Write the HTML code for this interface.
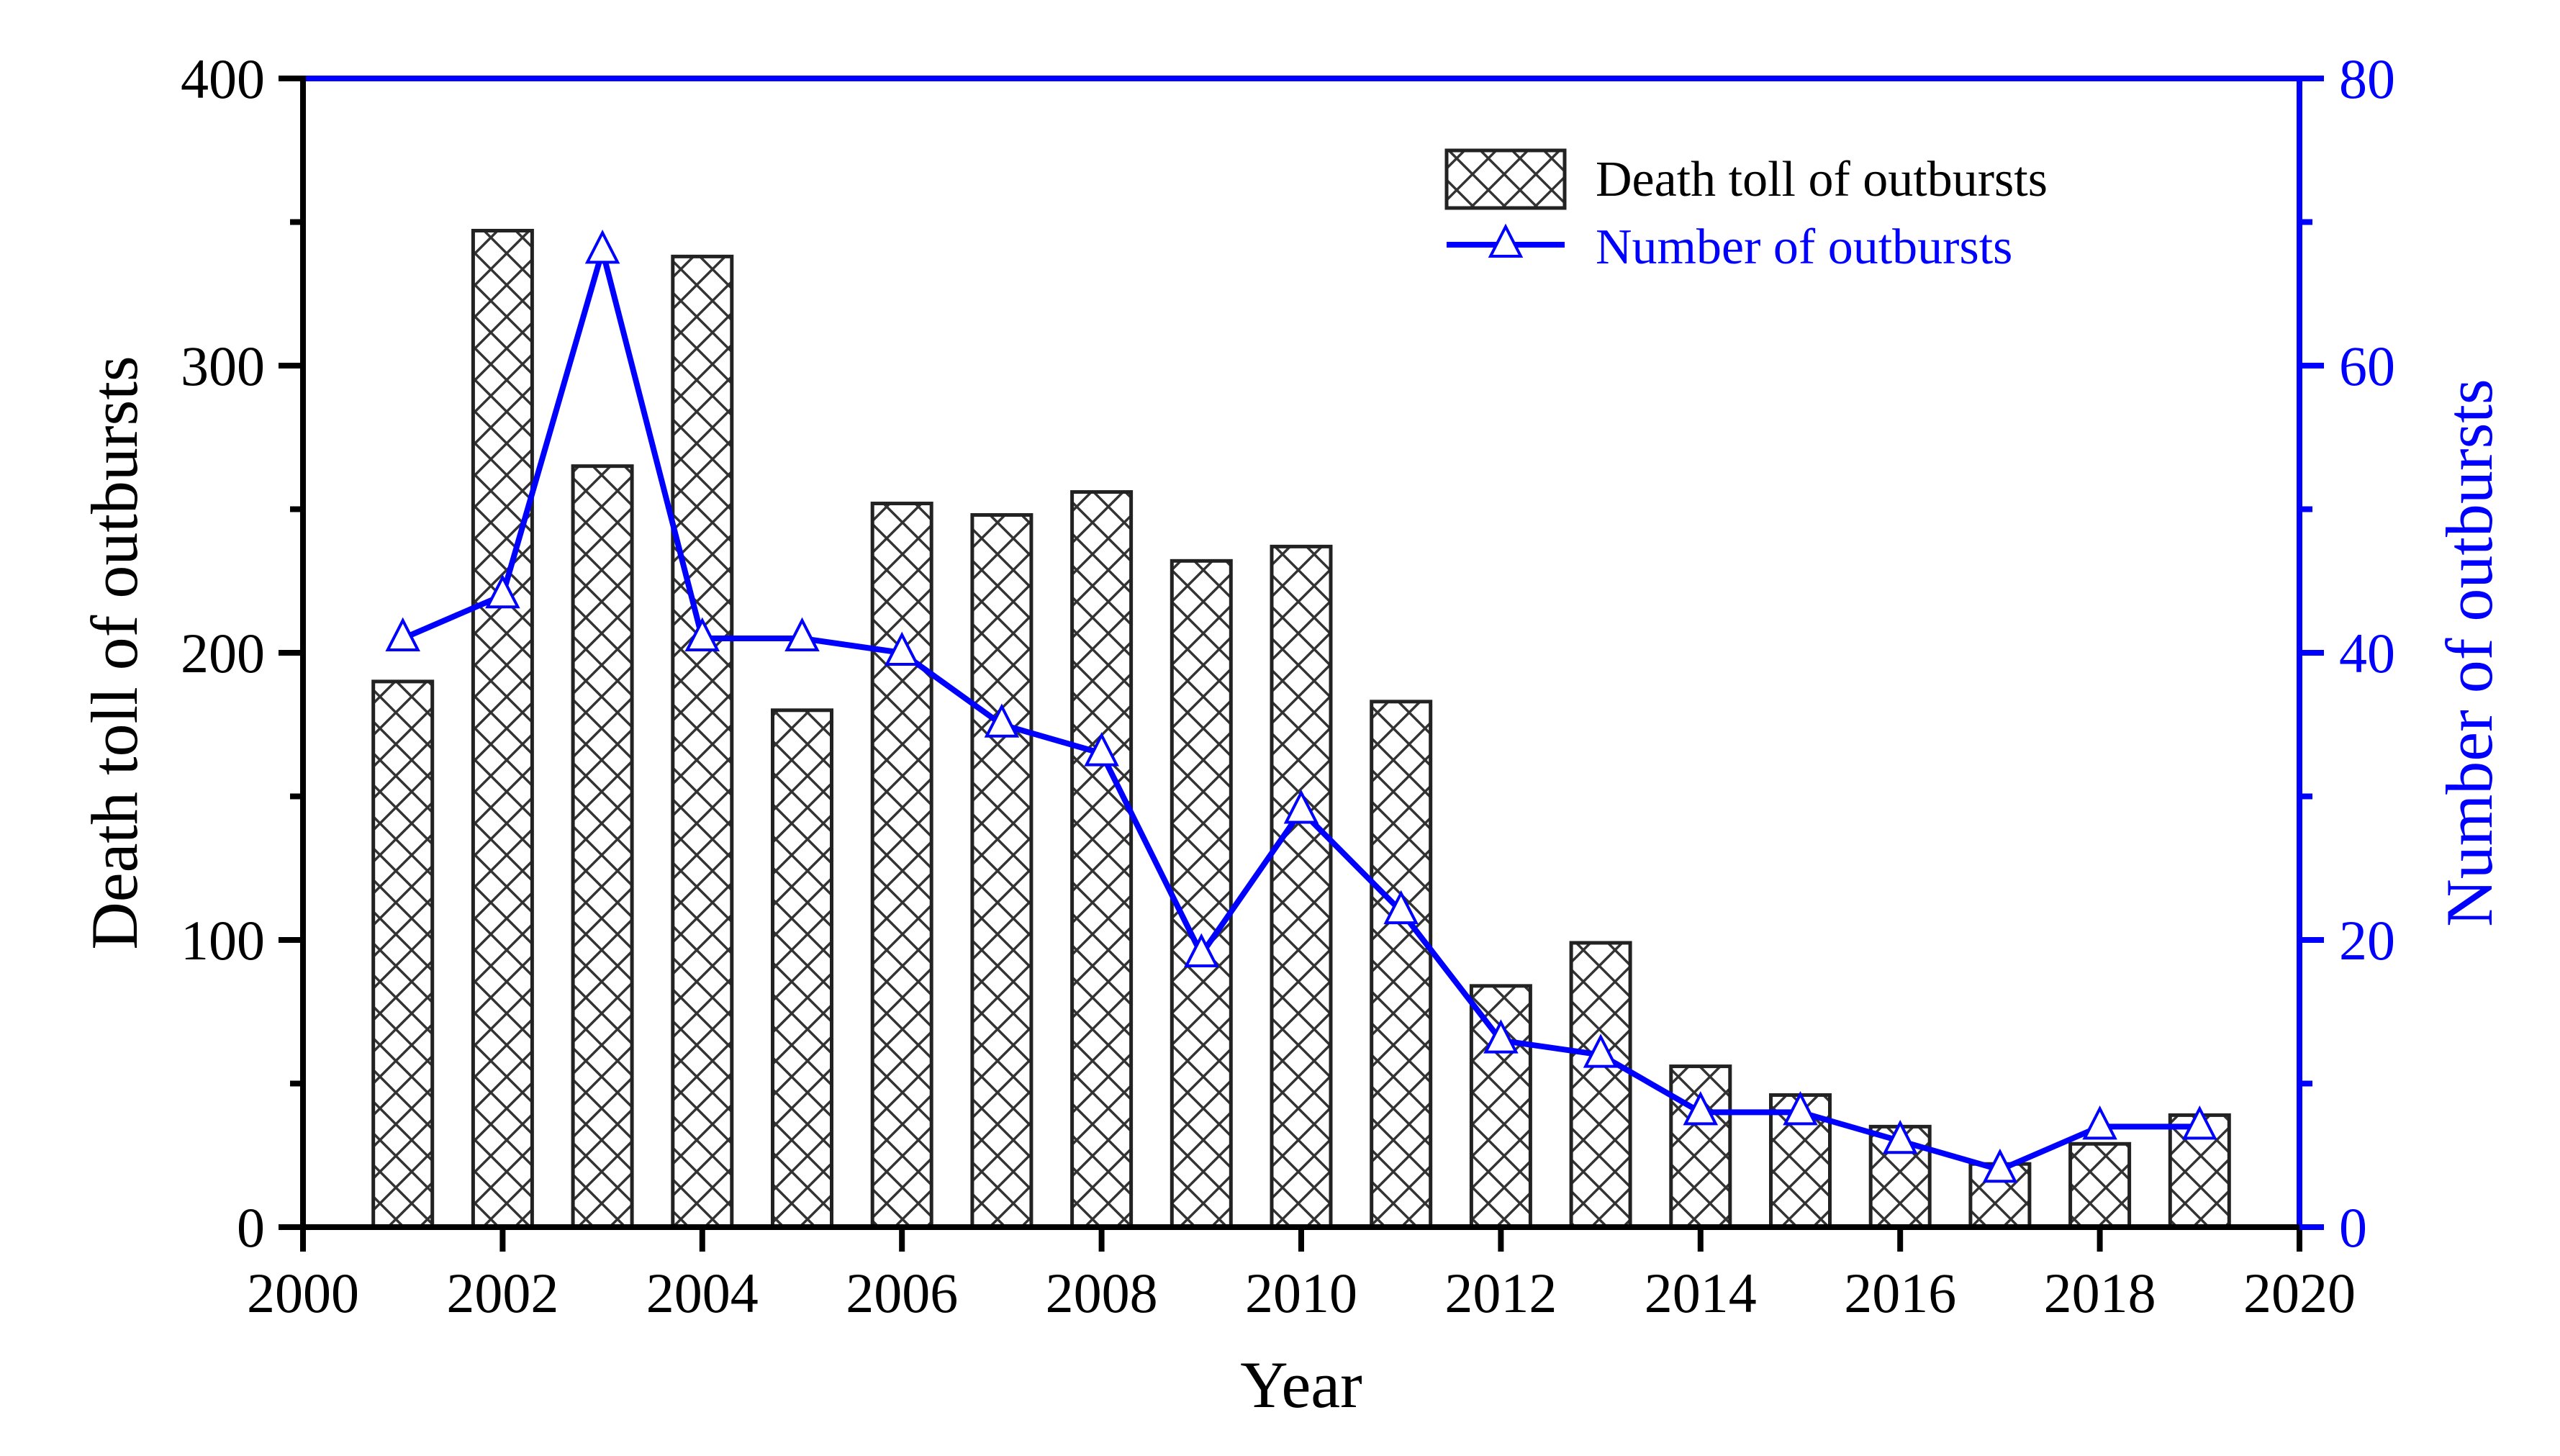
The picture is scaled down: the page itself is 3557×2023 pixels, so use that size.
<!DOCTYPE html>
<html><head><meta charset="utf-8"><style>html,body{margin:0;padding:0;background:#fff}svg{display:block}</style></head>
<body>
<svg id="chart" width="3557" height="2023" viewBox="0 0 3557 2023" xmlns="http://www.w3.org/2000/svg" font-family="'Liberation Serif', serif">
<defs>
<pattern id="hatch" patternUnits="userSpaceOnUse" width="44" height="44">
<path d="M0 0 L44 44 M44 0 L0 44" stroke="#333" stroke-width="3.5" fill="none"/>
</pattern>
</defs>
<g id="g"></g>
</svg>
<script>
const years = [2001,2002,2003,2004,2005,2006,2007,2008,2009,2010,2011,2012,2013,2014,2015,2016,2017,2018,2019];
const deaths = [190,347,265,338,180,252,248,256,232,237,183,84,99,56,46,35,22,29,39];
const counts = [41,44,68,41,41,40,35,33,19,29,22,13,12,8,8,6,4,7,7];
const xTicks = [2000,2002,2004,2006,2008,2010,2012,2014,2016,2018,2020];
const yLeftTicks = [0,100,200,300,400];
const yRightTicks = [0,20,40,60,80];

const L=421, R=3195, T=109, B=1705;
const x = v => L + (v-2000)/20*(R-L);
const yl = v => B - v/400*(B-T);
const yr = v => B - v/80*(B-T);
const NS="http://www.w3.org/2000/svg";
const g=document.getElementById('g');
function el(tag, attrs, text){const e=document.createElementNS(NS,tag);for(const k in attrs)e.setAttribute(k,attrs[k]);if(text!==undefined)e.textContent=text;g.appendChild(e);return e;}

years.forEach((yr_,i)=>{
  const e=el('rect',{x:x(yr_)-41,y:yl(deaths[i]),width:82,height:B-yl(deaths[i]),fill:'url(#hatch)',stroke:'#222','stroke-width':5});
  
  
});
const pts=years.map((v,i)=>x(v)+','+yr(counts[i])).join(' ');
const pl=el('polyline',{points:pts,fill:'none',stroke:'#0000ff','stroke-width':8});


function tri(cx,cy){
  return el('polygon',{points:`${cx},${cy-25} ${cx-21},${cy+16} ${cx+21},${cy+16}`,fill:'#fff',stroke:'#0000ff','stroke-width':4});
}
years.forEach((v,i)=>{
  const m=tri(x(v),yr(counts[i]));
  
  
});

let a;
a=el('line',{x1:L,y1:T,x2:R,y2:T,stroke:'#0000ff','stroke-width':8});

a=el('line',{x1:R,y1:T,x2:R,y2:B,stroke:'#0000ff','stroke-width':8});

a=el('line',{x1:L,y1:T-4,x2:L,y2:B+4,stroke:'#000','stroke-width':8});

a=el('line',{x1:L,y1:B,x2:R,y2:B,stroke:'#000','stroke-width':8});


xTicks.forEach(v=>{
  el('line',{x1:x(v),y1:B,x2:x(v),y2:B+34,stroke:'#000','stroke-width':8});
  const t=el('text',{x:x(v),y:B+118,'font-size':78,'text-anchor':'middle',fill:'#000'},String(v));
  
});
yLeftTicks.forEach(v=>{
  el('line',{x1:L-34,y1:yl(v),x2:L,y2:yl(v),stroke:'#000','stroke-width':8});
  if(v<400) el('line',{x1:L-18,y1:yl(v+50),x2:L,y2:yl(v+50),stroke:'#000','stroke-width':8});
  const t=el('text',{x:L-53,y:yl(v)+27,'font-size':78,'text-anchor':'end',fill:'#000'},String(v));
  
});
yRightTicks.forEach(v=>{
  el('line',{x1:R,y1:yr(v),x2:R+34,y2:yr(v),stroke:'#0000ff','stroke-width':8});
  if(v<80) el('line',{x1:R,y1:yr(v+10),x2:R+18,y2:yr(v+10),stroke:'#0000ff','stroke-width':8});
  const t=el('text',{x:R+55,y:yr(v)+27,'font-size':78,'text-anchor':'start',fill:'#0000ff'},String(v));
  
});

a=el('text',{x:(L+R)/2,y:1955,'font-size':92,'text-anchor':'middle',fill:'#000'},'Year');

a=el('text',{x:0,y:0,'font-size':92,'text-anchor':'middle',fill:'#000',transform:'translate(190,907) rotate(-90)'},'Death toll of outbursts');

a=el('text',{x:0,y:0,'font-size':92,'text-anchor':'middle',fill:'#0000ff',transform:'translate(3462,907) rotate(-90)'},'Number of outbursts');


a=el('rect',{x:2010,y:209,width:164,height:80,fill:'url(#hatch)',stroke:'#222','stroke-width':5});

a=el('text',{x:2217,y:272,'font-size':70,fill:'#000'},'Death toll of outbursts');

a=el('line',{x1:2010,y1:340,x2:2174,y2:340,stroke:'#0000ff','stroke-width':8});

a=tri(2092,340);

a=el('text',{x:2217,y:366,'font-size':70,fill:'#0000ff'},'Number of outbursts');

</script>
</body></html>
